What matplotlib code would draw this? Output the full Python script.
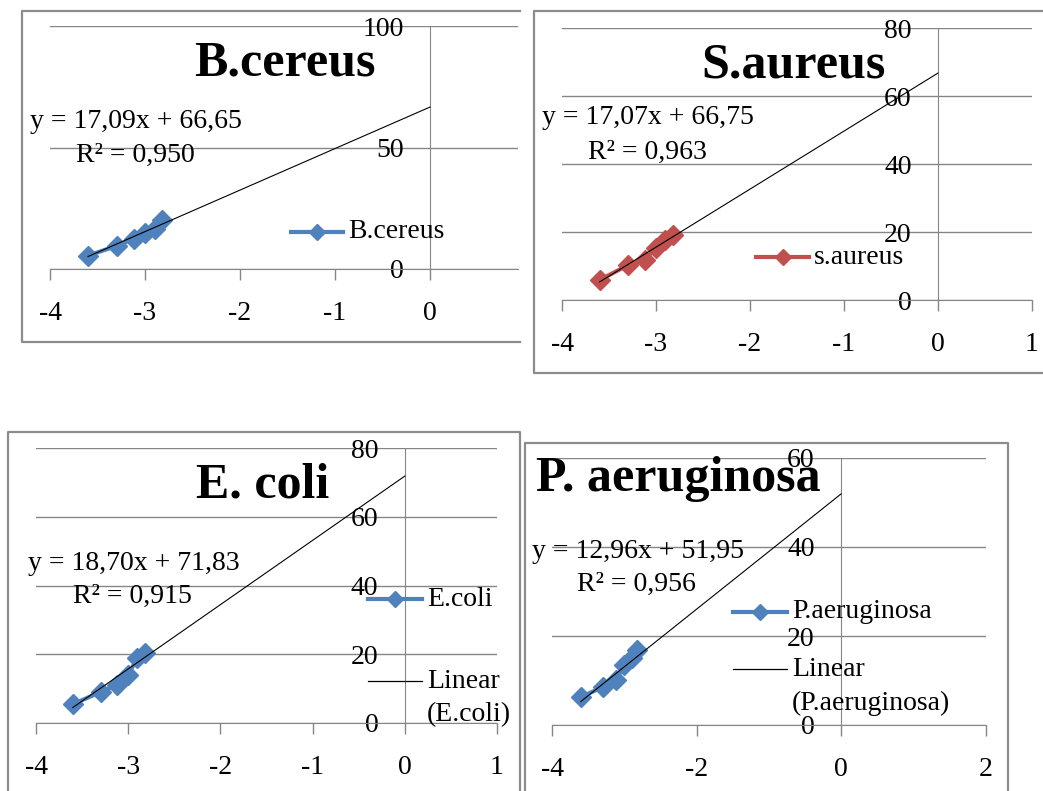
import matplotlib.pyplot as plt
from matplotlib.lines import Line2D
from matplotlib.transforms import Affine2D

W, H = 1043, 791
plt.rcParams['font.family'] = ['Liberation Serif', 'DejaVu Serif']
plt.rcParams['axes.unicode_minus'] = False

# log10 of concentration (same dilution series for every strain)
log_conc = [-3.60, -3.30, -3.12, -3.00, -2.90, -2.82]

bcereus = [5.5, 9.5, 12.5, 15.0, 16.5, 20.0]
saureus = [5.9, 10.2, 11.8, 15.3, 17.6, 19.1]
ecoli = [5.5, 9.0, 11.0, 14.0, 19.0, 20.5]
paerug = [6.3, 8.5, 10.1, 13.5, 15.1, 16.9]

titles = ['B.cereus', 'S.aureus', 'E. coli', 'P. aeruginosa']
series_names = ['B.cereus', 's.aureus', 'E.coli', 'P.aeruginosa']
slopes = [17.09, 17.07, 18.70, 12.96]
intercepts = [66.65, 66.75, 71.83, 51.95]
r2 = ['0,950', '0,963', '0,915', '0,956']
xticks = [[-4, -3, -2, -1, 0], [-4, -3, -2, -1, 0, 1], [-4, -3, -2, -1, 0, 1], [-4, -2, 0, 2]]
yticks = [[0, 50, 100], [0, 20, 40, 60, 80], [0, 20, 40, 60, 80], [0, 20, 40, 60]]

BLUE = '#4F81BD'
RED = '#C0504D'
GRAY = '#868686'
FS = 20

fig = plt.figure(figsize=(W / 100, H / 100), dpi=100)
fig.patch.set_facecolor('white')
PX = Affine2D().scale(1 / W, -1 / H).translate(0, 1) + fig.transFigure

# layout per panel (pixels): x of -4, px per unit, right edge, y of 0, y of top
layout = [
    dict(x0=50, ppu=95.0, xr=518, y0=269, yt=26, ymax=100,
         border=[(520, 11), (22, 11), (22, 342), (520, 342)],
         title=(285, 75), eq=(30, 122), r2=(76, 155),
         leg=(291, 343, 232), linear=None, color=BLUE),
    dict(x0=562, ppu=94.0, xr=1032, y0=300, yt=28, ymax=80,
         border=[(1043, 11), (534, 11), (534, 373), (1043, 373)],
         title=(794, 77), eq=(542, 118), r2=(588, 152),
         leg=(756, 809, 257), linear=None, color=RED),
    dict(x0=36, ppu=92.2, xr=497, y0=723, yt=448, ymax=80,
         border=[(8, 791), (8, 432), (520, 432), (520, 791)],
         title=(263, 497), eq=(28, 564), r2=(73, 596),
         leg=(368, 422, 599), linear=(681, 715), color=BLUE),
    dict(x0=552, ppu=72.3, xr=986, y0=725, yt=458, ymax=60,
         border=[(525, 791), (525, 443), (1008, 443), (1008, 791)],
         title=(678, 491), eq=(532, 551), r2=(577, 584),
         leg=(733, 787, 612), linear=(669, 703), color=BLUE),
]

data = [bcereus, saureus, ecoli, paerug]

for i, L in enumerate(layout):
    # panel border
    bx, by = zip(*L['border'])
    fig.add_artist(Line2D(bx, by, transform=PX, color='#8C8C8C', lw=1.6))

    xmax = -4 + (L['xr'] - L['x0']) / L['ppu']
    ax = fig.add_axes([L['x0'] / W, 1 - L['y0'] / H,
                       (L['xr'] - L['x0']) / W, (L['y0'] - L['yt']) / H])
    ax.set_facecolor('none')
    ax.set_xlim(-4, xmax)
    ax.set_ylim(0, L['ymax'])
    ax.set_xticks(xticks[i])
    ax.set_yticks(yticks[i])
    for s in ['top', 'right']:
        ax.spines[s].set_visible(False)
    ax.spines['left'].set_position(('data', 0))
    ax.spines['left'].set_color(GRAY)
    ax.spines['bottom'].set_color(GRAY)
    ax.tick_params(axis='x', direction='out', length=8, width=1, color=GRAY,
                   pad=15, labelsize=FS)
    ax.tick_params(axis='y', length=0, pad=19, labelsize=FS)
    ax.yaxis.grid(True, color=GRAY, lw=1)
    ax.set_axisbelow(True)

    ax.plot(log_conc, data[i], color=L['color'], lw=3, marker='D', ms=10,
            zorder=3, clip_on=False)
    xs = [min(log_conc), 0]
    ax.plot(xs, [slopes[i] * x + intercepts[i] for x in xs], color='black',
            lw=0.8, zorder=4)

    # title and trendline equation
    fig.text(L['title'][0] / W, 1 - L['title'][1] / H, titles[i], ha='center',
             va='baseline', fontsize=36, fontweight='bold')
    eq = f"y = {slopes[i]:.2f}x + {intercepts[i]:.2f}".replace('.', ',')
    fig.text(L['eq'][0] / W, 1 - L['eq'][1] / H, eq, ha='left', va='center',
             fontsize=FS)
    fig.text(L['r2'][0] / W, 1 - L['r2'][1] / H, 'R² = ' + r2[i], ha='left',
             va='center', fontsize=FS)

    # legend
    lx0, lx1, ly = L['leg']
    fig.add_artist(Line2D([lx0, lx1], [ly, ly], transform=PX, color=L['color'],
                          lw=3))
    fig.add_artist(Line2D([(lx0 + lx1) / 2], [ly], transform=PX, color=L['color'],
                          marker='D', ms=8))
    fig.text((lx1 + 5) / W, 1 - ly / H, series_names[i], ha='left', va='center',
             fontsize=FS)
    if L['linear']:
        y1, y2 = L['linear']
        fig.add_artist(Line2D([lx0, lx1], [y1, y1], transform=PX, color='black',
                              lw=0.9))
        fig.text((lx1 + 5) / W, 1 - y1 / H, 'Linear', ha='left', va='center',
                 fontsize=FS)
        fig.text((lx1 + 5) / W, 1 - y2 / H, '(' + series_names[i] + ')',
                 ha='left', va='center', fontsize=FS)

fig.savefig('out.png', dpi=100)
